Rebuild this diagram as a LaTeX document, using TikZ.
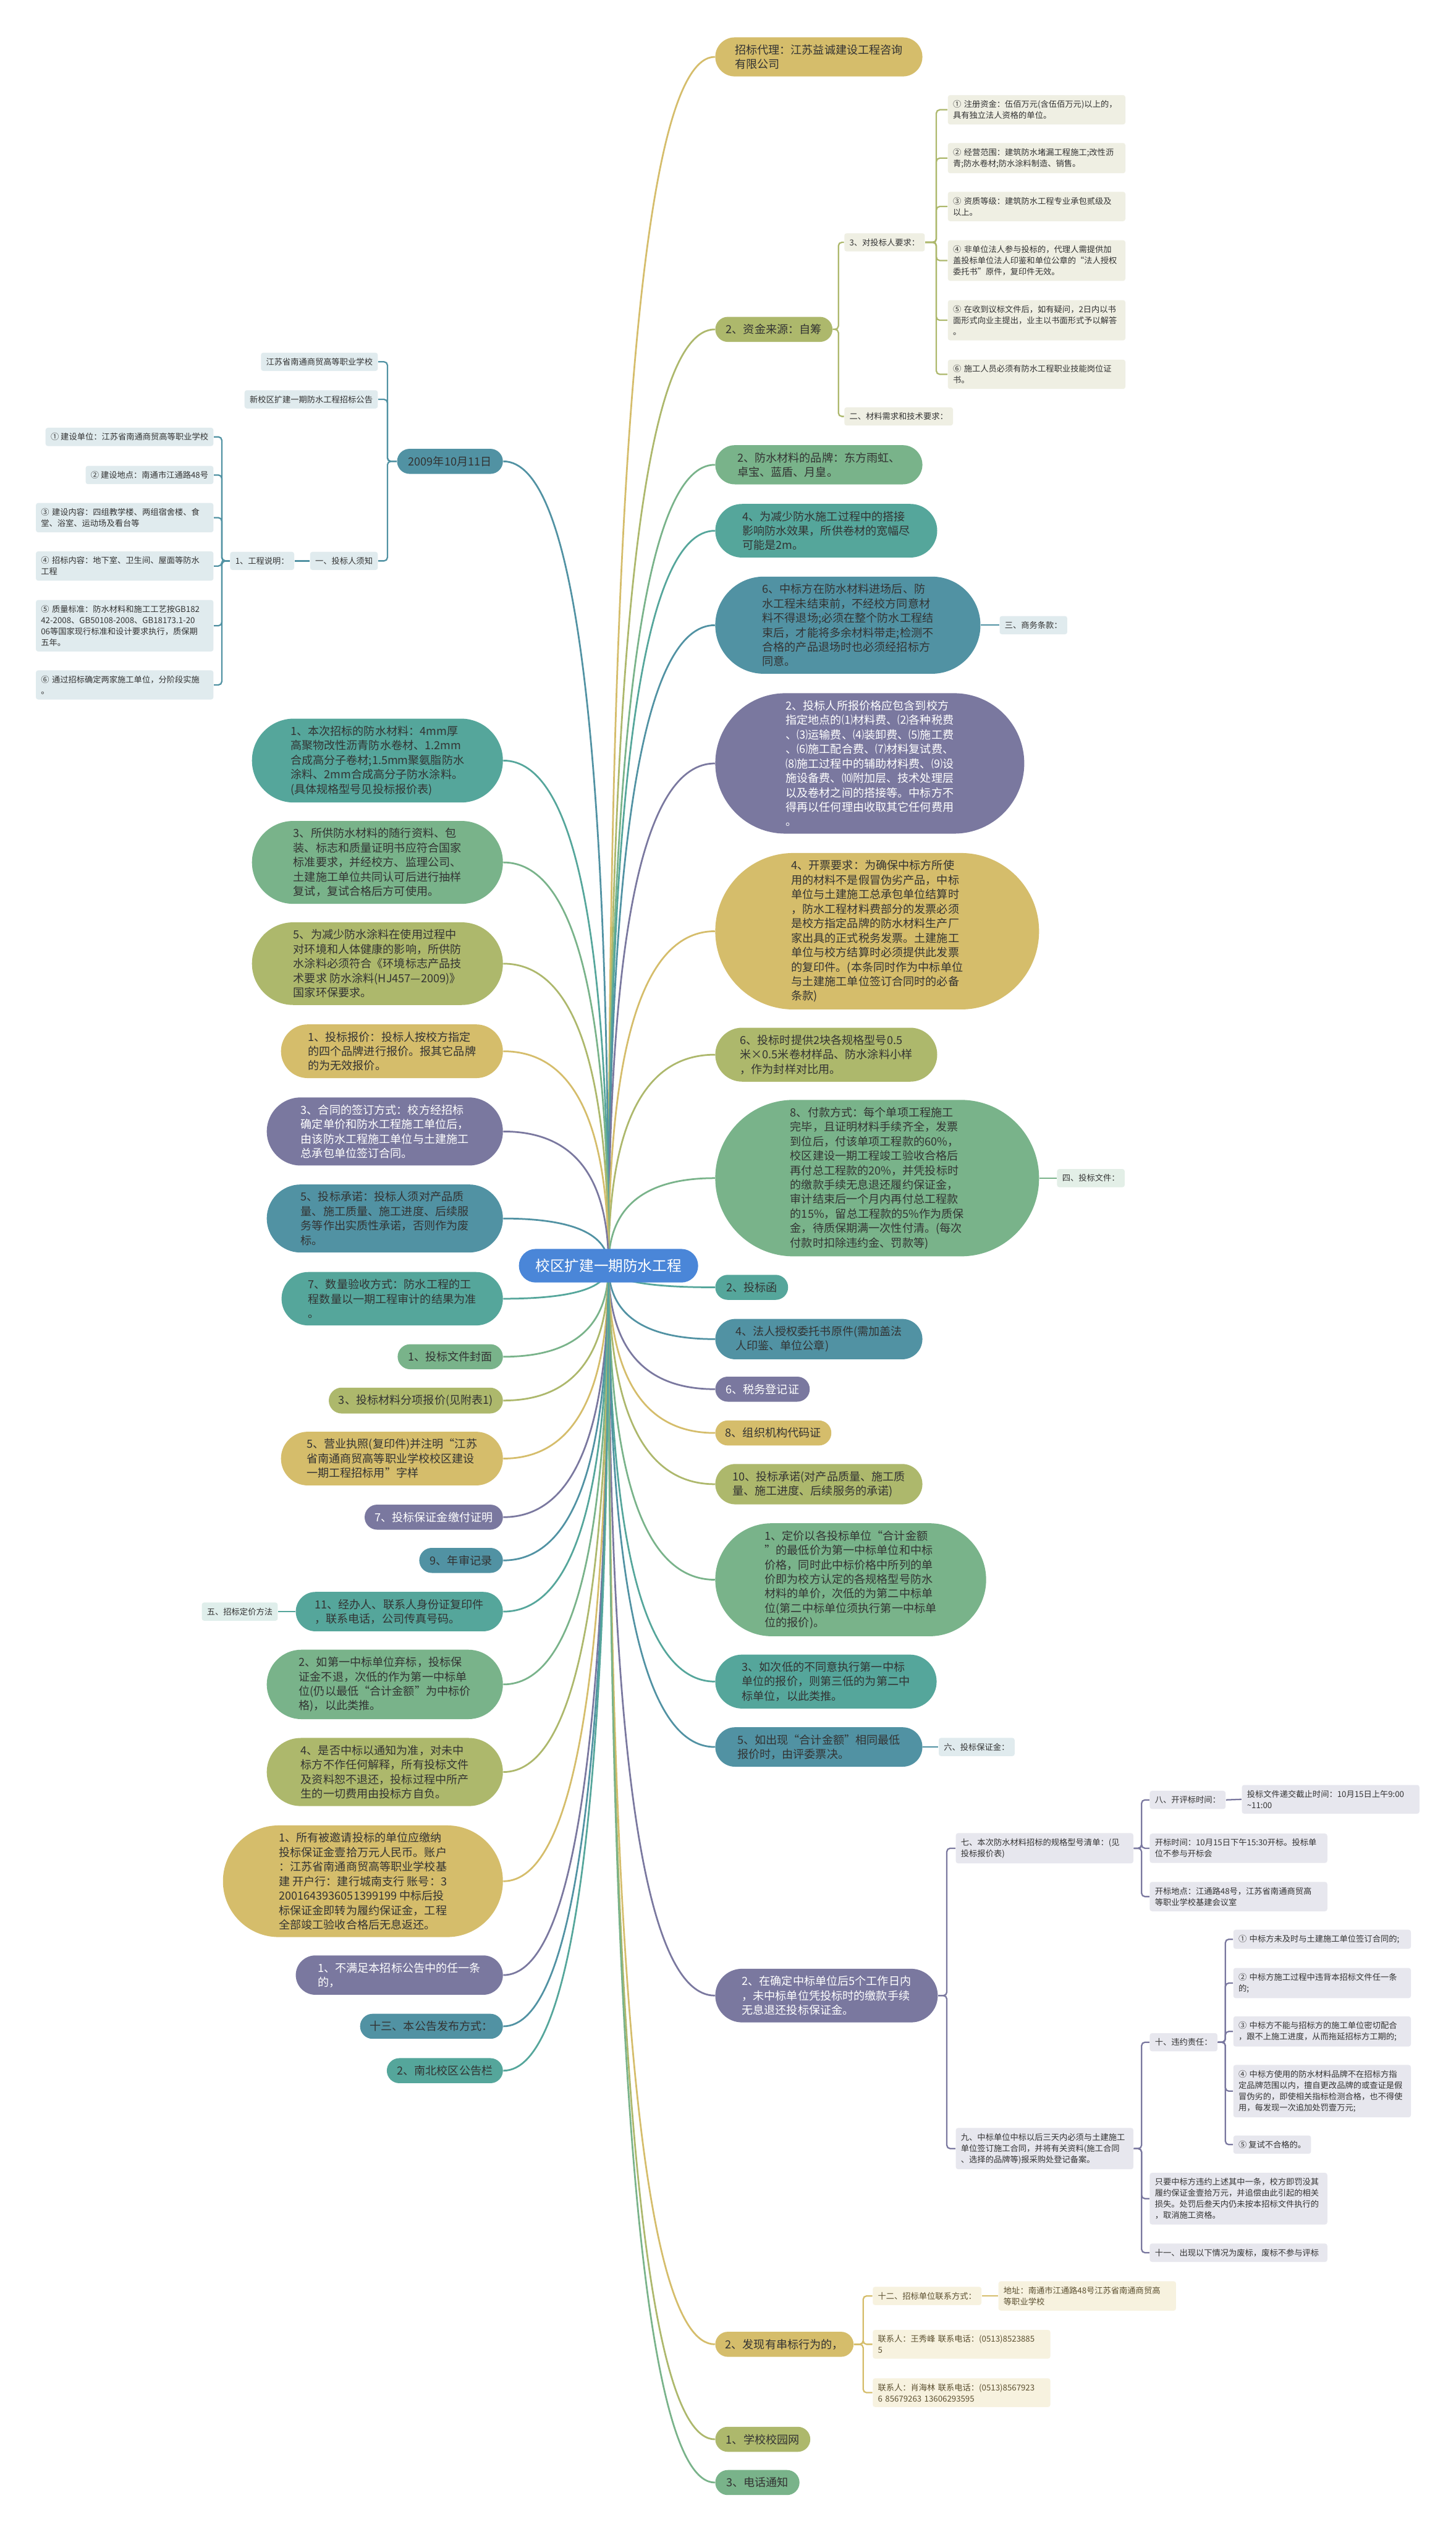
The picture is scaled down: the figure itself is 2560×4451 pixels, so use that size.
\documentclass[tikz,border=0pt]{standalone}
\usepackage{fontspec}
\setmainfont{Noto Sans CJK SC}
\usetikzlibrary{shapes.misc,calc,backgrounds}

\definecolor{cRoot}{HTML}{4A86D8}
\definecolor{cGold}{HTML}{D5BD6B}
\definecolor{cOlive}{HTML}{ADB86C}
\definecolor{cGreen}{HTML}{79B38A}
\definecolor{cTeal}{HTML}{55A69B}
\definecolor{cBlue}{HTML}{5192A3}
\definecolor{cPurp}{HTML}{7A789F}
\definecolor{fOlive}{HTML}{EFEFE3}
\definecolor{fBlue}{HTML}{E0EBEE}
\definecolor{fGreen}{HTML}{E3EFE7}
\definecolor{fTeal}{HTML}{DFEEEB}
\definecolor{fPurp}{HTML}{E7E7EE}
\definecolor{fGold}{HTML}{F7F2DF}
\definecolor{tDark}{HTML}{333333}
\definecolor{tGold}{HTML}{5C5030}

\begin{document}
\begin{tikzpicture}[
    x=0.01cm, y=-0.01cm,
    every node/.style={text=tDark},
    hub/.style={rounded rectangle, fill=cRoot, text=white, inner xsep=0pt, minimum height=0.59cm, minimum width=3.15cm, font=\fontsize{7.3}{9}\selectfont},
    bub/.style={rounded rectangle, fill=#1, inner xsep=0.02cm, inner ysep=0.125cm, minimum height=0.44cm, align=left, font=\fontsize{5.6}{7.25}\selectfont},
    rb/.style={bub=#1, anchor=west},
    lb/.style={bub=#1, anchor=east},
    leaf/.style={rectangle, rounded corners=0.04cm, fill=#1, inner xsep=0.09cm, inner ysep=0.093cm, align=left, font=\fontsize{4.1}{5.55}\selectfont},
    wide/.style={text width=2.94cm},
    link/.style={line width=0.85pt},
    twig/.style={line width=0.7pt, rounded corners=0.06cm}
]

\node[hub] (root) at (1070,2225) {校区扩建一期防水工程};

% right branches
\node[rb=cGold, minimum width=3.68cm] (agent) at (1257,100) {招标代理：江苏益诚建设工程咨询\\有限公司};
\node[rb=cOlive, minimum width=2.1cm] (fund) at (1257,579) {2、资金来源：自筹};
\node[leaf=fOlive, anchor=west] (req) at (1484,426) {3、对投标人要求：};
\node[leaf=fOlive, anchor=west] (mat) at (1484,732) {二、材料需求和技术要求：};
\node[leaf=fOlive, wide, anchor=west] (q1) at (1666,193) {① 注册资金：伍佰万元(含伍佰万元)以上的，\\具有独立法人资格的单位。};
\node[leaf=fOlive, wide, anchor=west] (q2) at (1666,278) {② 经营范围：建筑防水堵漏工程施工;改性沥\\青;防水卷材;防水涂料制造、销售。};
\node[leaf=fOlive, wide, anchor=west] (q3) at (1666,363) {③ 资质等级：建筑防水工程专业承包贰级及\\以上。};
\node[leaf=fOlive, wide, anchor=west] (q4) at (1666,458) {④ 非单位法人参与投标的，代理人需提供加\\盖投标单位法人印鉴和单位公章的“法人授权\\委托书”原件，复印件无效。};
\node[leaf=fOlive, wide, anchor=west] (q5) at (1666,563) {⑤ 在收到议标文件后，如有疑问，2日内以书\\面形式向业主提出，业主以书面形式予以解答\\。};
\node[leaf=fOlive, wide, anchor=west] (q6) at (1666,658) {⑥ 施工人员必须有防水工程职业技能岗位证\\书。};
\node[rb=cGreen, minimum width=3.68cm] (brand) at (1257,817) {2、防水材料的品牌：东方雨虹、\\卓宝、蓝盾、月皇。};
\node[rb=cTeal, minimum width=3.94cm] (roll) at (1257,933) {4、为减少防水施工过程中的搭接\\影响防水效果，所供卷材的宽幅尽\\可能是2m。};
\node[rb=cBlue, minimum width=4.7cm] (onsite) at (1257,1099) {6、中标方在防水材料进场后、防\\水工程未结束前，不经校方同意材\\料不得退场;必须在整个防水工程结\\束后，才能将多余材料带走;检测不\\合格的产品退场时也必须经招标方\\同意。};
\node[leaf=fBlue, anchor=west] (biz) at (1757,1099) {三、商务条款：};
\node[rb=cPurp, text=white, minimum width=5.47cm] (price) at (1257,1342) {2、投标人所报价格应包含到校方\\指定地点的⑴材料费、⑵各种税费\\、⑶运输费、⑷装卸费、⑸施工费\\、⑹施工配合费、⑺材料复试费、\\⑻施工过程中的辅助材料费、⑼设\\施设备费、⑽附加层、技术处理层\\以及卷材之间的搭接等。中标方不\\得再以任何理由收取其它任何费用\\。};
\node[rb=cGold, minimum width=5.73cm] (invoice) at (1257,1637) {4、开票要求：为确保中标方所使\\用的材料不是假冒伪劣产品，中标\\单位与土建施工总承包单位结算时\\，防水工程材料费部分的发票必须\\是校方指定品牌的防水材料生产厂\\家出具的正式税务发票。土建施工\\单位与校方结算时必须提供此发票\\的复印件。(本条同时作为中标单位\\与土建施工单位签订合同时的必备\\条款)};
\node[rb=cOlive, minimum width=3.94cm] (sample) at (1257,1854) {6、投标时提供2块各规格型号0.5\\米×0.5米卷材样品、防水涂料小样\\，作为封样对比用。};
\node[rb=cGreen, minimum width=5.73cm] (pay) at (1257,2071) {8、付款方式：每个单项工程施工\\完毕，且证明材料手续齐全，发票\\到位后，付该单项工程款的60\%，\\校区建设一期工程竣工验收合格后\\再付总工程款的20\%，并凭投标时\\的缴款手续无息退还履约保证金，\\审计结束后一个月内再付总工程款\\的15\%，留总工程款的5\%作为质保\\金，待质保期满一次性付清。(每次\\付款时扣除违约金、罚款等)};
\node[leaf=fGreen, anchor=west] (docs) at (1858,2071) {四、投标文件：};
\node[rb=cTeal, minimum width=1.32cm] (letter) at (1257,2263) {2、投标函};
\node[rb=cBlue, minimum width=3.68cm] (proxy) at (1257,2354) {4、法人授权委托书原件(需加盖法\\人印鉴、单位公章)};
\node[rb=cPurp, text=white, minimum width=1.7cm] (tax) at (1257,2442) {6、税务登记证};
\node[rb=cGold, minimum width=2.08cm] (orgcode) at (1257,2519) {8、组织机构代码证};
\node[rb=cOlive, minimum width=3.68cm] (promise) at (1257,2609) {10、投标承诺(对产品质量、施工质\\量、施工进度、后续服务的承诺)};
\node[rb=cGreen, minimum width=4.8cm] (fix) at (1257,2777) {1、定价以各投标单位“合计金额\\”的最低价为第一中标单位和中标\\价格，同时此中标价格中所列的单\\价即为校方认定的各规格型号防水\\材料的单价，次低的为第二中标单\\位(第二中标单位须执行第一中标单\\位的报价)。};
\node[rb=cTeal, minimum width=3.93cm] (third) at (1257,2956) {3、如次低的不同意执行第一中标\\单位的报价，则第三低的为第二中\\标单位，以此类推。};
\node[rb=cBlue, minimum width=3.68cm] (tie) at (1257,3071) {5、如出现“合计金额”相同最低\\报价时，由评委票决。};
\node[leaf=fBlue, anchor=west] (bond) at (1650,3071) {六、投标保证金：};
\node[rb=cPurp, text=white, minimum width=3.95cm] (refund) at (1257,3508) {2、在确定中标单位后5个工作日内\\，未中标单位凭投标时的缴款手续\\无息退还投标保证金。};
\node[leaf=fPurp, wide, anchor=west] (spec) at (1680,3249) {七、本次防水材料招标的规格型号清单：(见\\投标报价表)};
\node[leaf=fPurp, anchor=west] (opentime) at (2021,3164) {八、开评标时间：};
\node[leaf=fPurp, wide, anchor=west] (deadline) at (2183,3163) {投标文件递交截止时间：10月15日上午9:00\\\textasciitilde11:00};
\node[leaf=fPurp, wide, anchor=west] (openhr) at (2021,3249) {开标时间：10月15日下午15:30开标。投标单\\位不参与开标会};
\node[leaf=fPurp, wide, anchor=west] (openloc) at (2021,3334) {开标地点：江通路48号，江苏省南通商贸高\\等职业学校基建会议室};
\node[leaf=fPurp, wide, anchor=west] (sign) at (1680,3777) {九、中标单位中标以后三天内必须与土建施工\\单位签订施工合同，并将有关资料(施工合同\\、选择的品牌等)报采购处登记备案。};
\node[leaf=fPurp, anchor=west] (breach) at (2021,3590) {十、违约责任：};
\node[leaf=fPurp, wide, anchor=west] (b1) at (2168,3409) {① 中标方未及时与土建施工单位签订合同的;};
\node[leaf=fPurp, wide, anchor=west] (b2) at (2168,3486) {② 中标方施工过程中违背本招标文件任一条\\的;};
\node[leaf=fPurp, wide, anchor=west] (b3) at (2168,3571) {③ 中标方不能与招标方的施工单位密切配合\\，跟不上施工进度，从而拖延招标方工期的;};
\node[leaf=fPurp, wide, anchor=west] (b4) at (2168,3676) {④ 中标方使用的防水材料品牌不在招标方指\\定品牌范围以内，擅自更改品牌的或查证是假\\冒伪劣的，即使相关指标检测合格，也不得使\\用，每发现一次追加处罚壹万元;};
\node[leaf=fPurp, anchor=west] (b5) at (2168,3770) {⑤ 复试不合格的。};
\node[leaf=fPurp, wide, anchor=west] (penalty) at (2021,3865) {只要中标方违约上述其中一条，校方即罚没其\\履约保证金壹拾万元，并追偿由此引起的相关\\损失。处罚后叁天内仍未按本招标文件执行的\\，取消施工资格。};
\node[leaf=fPurp, wide, anchor=west] (invalid) at (2021,3960) {十一、出现以下情况为废标，废标不参与评标};
\node[rb=cGold, minimum width=2.47cm] (collude) at (1257,4121) {2、发现有串标行为的，};
\node[leaf=fGold, text=tGold, anchor=west] (contact) at (1534,4036) {十二、招标单位联系方式：};
\node[leaf=fGold, text=tGold, wide, anchor=west] (addr) at (1755,4036) {地址：南通市江通路48号江苏省南通商贸高\\等职业学校};
\node[leaf=fGold, text=tGold, wide, anchor=west] (tel1) at (1534,4121) {联系人：王秀峰 联系电话：(0513)8523885\\5};
\node[leaf=fGold, text=tGold, wide, anchor=west] (tel2) at (1534,4206) {联系人：肖海林 联系电话：(0513)8567923\\6 85679263 13606293595};
\node[rb=cOlive, minimum width=1.71cm] (web) at (1257,4288) {1、学校校园网};
\node[rb=cGreen, minimum width=1.52cm] (phone) at (1257,4364) {3、电话通知};

% left branches
\node[lb=cBlue, minimum width=1.9cm] (date) at (885,811) {2009年10月11日};
\node[leaf=fBlue, anchor=east] (school) at (665,636) {江苏省南通商贸高等职业学校};
\node[leaf=fBlue, anchor=east] (notice) at (665,702) {新校区扩建一期防水工程招标公告};
\node[leaf=fBlue, anchor=east] (guide) at (665,986) {一、投标人须知};
\node[leaf=fBlue, anchor=east] (proj) at (518,986) {1、工程说明：};
\node[leaf=fBlue, anchor=east] (p1) at (376,768) {① 建设单位：江苏省南通商贸高等职业学校};
\node[leaf=fBlue, anchor=east] (p2) at (376,835) {② 建设地点：南通市江通路48号};
\node[leaf=fBlue, wide, anchor=east] (p3) at (376,910) {③ 建设内容：四组教学楼、两组宿舍楼、食\\堂、浴室、运动场及看台等};
\node[leaf=fBlue, wide, anchor=east] (p4) at (376,995) {④ 招标内容：地下室、卫生间、屋面等防水\\工程};
\node[leaf=fBlue, wide, anchor=east] (p5) at (376,1100) {⑤ 质量标准：防水材料和施工工艺按GB182\\42-2008、GB50108-2008、GB18173.1-20\\06等国家现行标准和设计要求执行，质保期\\五年。};
\node[leaf=fBlue, wide, anchor=east] (p6) at (376,1204) {⑥ 通过招标确定两家施工单位，分阶段实施\\。};
\node[lb=cTeal, minimum width=4.45cm] (mater) at (885,1337) {1、本次招标的防水材料：4mm厚\\高聚物改性沥青防水卷材、1.2mm\\合成高分子卷材;1.5mm聚氨脂防水\\涂料、2mm合成高分子防水涂料。\\(具体规格型号见投标报价表)};
\node[lb=cGreen, minimum width=4.45cm] (cert) at (885,1516) {3、所供防水材料的随行资料、包\\装、标志和质量证明书应符合国家\\标准要求，并经校方、监理公司、\\土建施工单位共同认可后进行抽样\\复试，复试合格后方可使用。};
\node[lb=cOlive, minimum width=4.45cm] (eco) at (885,1694) {5、为减少防水涂料在使用过程中\\对环境和人体健康的影响，所供防\\水涂料必须符合《环境标志产品技\\术要求 防水涂料(HJ457—2009)》\\国家环保要求。};
\node[lb=cGold, minimum width=3.94cm] (quote) at (885,1848) {1、投标报价：投标人按校方指定\\的四个品牌进行报价。报其它品牌\\的为无效报价。};
\node[lb=cPurp, text=white, minimum width=4.19cm] (contract) at (885,1989) {3、合同的签订方式：校方经招标\\确定单价和防水工程施工单位后，\\由该防水工程施工单位与土建施工\\总承包单位签订合同。};
\node[lb=cBlue, minimum width=4.19cm] (pledge) at (885,2142) {5、投标承诺：投标人须对产品质\\量、施工质量、施工进度、后续服\\务等作出实质性承诺，否则作为废\\标。};
\node[lb=cTeal, minimum width=3.93cm] (measure) at (885,2283) {7、数量验收方式：防水工程的工\\程数量以一期工程审计的结果为准\\。};
\node[lb=cGreen, minimum width=1.89cm] (cover) at (885,2385) {1、投标文件封面};
\node[lb=cOlive, minimum width=3.1cm] (itemized) at (885,2462) {3、投标材料分项报价(见附表1)};
\node[lb=cGold, minimum width=3.94cm] (license) at (885,2564) {5、营业执照(复印件)并注明“江苏\\省南通商贸高等职业学校校区建设\\一期工程招标用”字样};
\node[lb=cPurp, text=white, minimum width=2.47cm] (deposit) at (885,2667) {7、投标保证金缴付证明};
\node[lb=cBlue, minimum width=1.51cm] (audit) at (885,2743) {9、年审记录};
\node[lb=cTeal, minimum width=3.68cm] (idcopy) at (885,2833) {11、经办人、联系人身份证复印件\\，联系电话，公司传真号码。};
\node[leaf=fTeal, anchor=east] (method) at (489,2833) {五、招标定价方法};
\node[lb=cGreen, minimum width=4.19cm] (abandon) at (885,2961) {2、如第一中标单位弃标，投标保\\证金不退，次低的作为第一中标单\\位(仍以最低“合计金额”为中标价\\格)，以此类推。};
\node[lb=cOlive, minimum width=4.19cm] (notify) at (885,3115) {4、是否中标以通知为准，对未中\\标方不作任何解释，所有投标文件\\及资料恕不退还，投标过程中所产\\生的一切费用由投标方自负。};
\node[lb=cGold, minimum width=4.96cm] (account) at (885,3307) {1、所有被邀请投标的单位应缴纳\\投标保证金壹拾万元人民币。账户\\：江苏省南通商贸高等职业学校基\\建 开户行：建行城南支行 账号：3\\2001643936051399199 中标后投\\标保证金即转为履约保证金，工程\\全部竣工验收合格后无息返还。};
\node[lb=cPurp, text=white, minimum width=3.68cm] (unmet) at (885,3472) {1、不满足本招标公告中的任一条\\的，};
\node[lb=cBlue, minimum width=2.55cm] (publish) at (885,3562) {十三、本公告发布方式：};
\node[lb=cTeal, minimum width=2.08cm] (board) at (885,3640) {2、南北校区公告栏};

\begin{scope}[on background layer]
\fill[white] (0,0) rectangle (2560,4451);
% root to right
\foreach \n/\c in {agent/cGold, fund/cOlive, brand/cGreen, roll/cTeal, onsite/cBlue, price/cPurp, invoice/cGold, sample/cOlive, pay/cGreen, letter/cTeal, proxy/cBlue, tax/cPurp, orgcode/cGold, promise/cOlive, fix/cGreen, third/cTeal, tie/cBlue, refund/cPurp, collude/cGold, web/cOlive, phone/cGreen}
  \draw[link, \c] (root.center) .. controls ($(root.center)!0.667!(root.center |- \n.west)$) and ($(\n.west)!0.667!(root.center |- \n.west)$) .. (\n.west);
% root to left
\foreach \n/\c in {date/cBlue, mater/cTeal, cert/cGreen, eco/cOlive, quote/cGold, contract/cPurp, pledge/cBlue, measure/cTeal, cover/cGreen, itemized/cOlive, license/cGold, deposit/cPurp, audit/cBlue, idcopy/cTeal, abandon/cGreen, notify/cOlive, account/cGold, unmet/cPurp, publish/cBlue, board/cTeal}
  \draw[link, \c] (root.center) .. controls ($(root.center)!0.667!(root.center |- \n.east)$) and ($(\n.east)!0.667!(root.center |- \n.east)$) .. (\n.east);
% sub branches
\foreach \c in {req,mat}
  \draw[twig, cOlive] (fund.east) -- ($(fund.east)!0.5!(fund.east -| req.west)$) |- (\c.west);
\foreach \c in {q1,q2,q3,q4,q5,q6}
  \draw[twig, cOlive] (req.east) -- ($(req.east)!0.5!(req.east -| q1.west)$) |- (\c.west);
\draw[twig, cBlue] (onsite.east) -- (biz.west);
\draw[twig, cGreen] (pay.east) -- (docs.west);
\draw[twig, cBlue] (tie.east) -- (bond.west);
\foreach \c in {spec,sign}
  \draw[twig, cPurp] (refund.east) -- ($(refund.east)!0.5!(refund.east -| spec.west)$) |- (\c.west);
\foreach \c in {opentime,openhr,openloc}
  \draw[twig, cPurp] (spec.east) -- ($(spec.east)!0.5!(spec.east -| opentime.west)$) |- (\c.west);
\draw[twig, cPurp] (opentime.east) -- (deadline.west);
\foreach \c in {breach,penalty,invalid}
  \draw[twig, cPurp] (sign.east) -- ($(sign.east)!0.5!(sign.east -| breach.west)$) |- (\c.west);
\foreach \c in {b1,b2,b3,b4,b5}
  \draw[twig, cPurp] (breach.east) -- ($(breach.east)!0.5!(breach.east -| b1.west)$) |- (\c.west);
\foreach \c in {contact,tel1,tel2}
  \draw[twig, cGold] (collude.east) -- ($(collude.east)!0.5!(collude.east -| contact.west)$) |- (\c.west);
\draw[twig, cGold] (contact.east) -- (addr.west);
\foreach \c in {school,notice,guide}
  \draw[twig, cBlue] (date.west) -- ($(date.west)!0.5!(date.west -| school.east)$) |- (\c.east);
\draw[twig, cBlue] (guide.west) -- (proj.east);
\foreach \c in {p1,p2,p3,p4,p5,p6}
  \draw[twig, cBlue] (proj.west) -- ($(proj.west)!0.5!(proj.west -| p1.east)$) |- (\c.east);
\draw[twig, cTeal] (idcopy.west) -- (method.east);
\end{scope}

\end{tikzpicture}
\end{document}
